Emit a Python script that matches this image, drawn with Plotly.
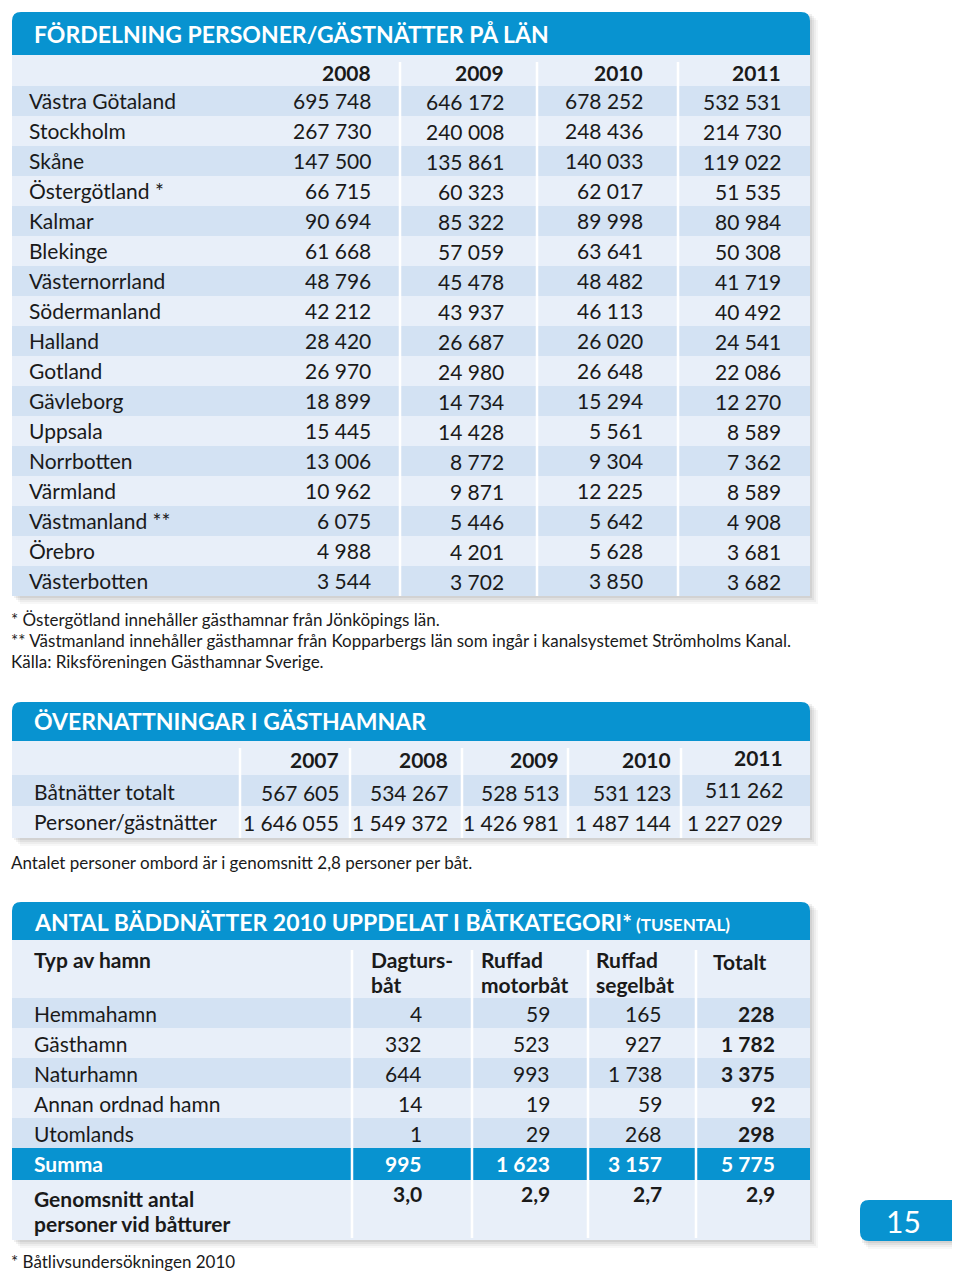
import plotly.graph_objects as go

# ---------------- DATA ----------------
# Table 1: Fördelning personer/gästnätter på län
lan = ["Västra Götaland", "Stockholm", "Skåne", "Östergötland *", "Kalmar", "Blekinge",
       "Västernorrland", "Södermanland", "Halland", "Gotland", "Gävleborg", "Uppsala",
       "Norrbotten", "Värmland", "Västmanland **", "Örebro", "Västerbotten"]
years_1 = ["2008", "2009", "2010", "2011"]
v2008 = [695748, 267730, 147500, 66715, 90694, 61668, 48796, 42212, 28420, 26970, 18899,
         15445, 13006, 10962, 6075, 4988, 3544]
v2009 = [646172, 240008, 135861, 60323, 85322, 57059, 45478, 43937, 26687, 24980, 14734,
         14428, 8772, 9871, 5446, 4201, 3702]
v2010 = [678252, 248436, 140033, 62017, 89998, 63641, 48482, 46113, 26020, 26648, 15294,
         5561, 9304, 12225, 5642, 5628, 3850]
v2011 = [532531, 214730, 119022, 51535, 80984, 50308, 41719, 40492, 24541, 22086, 12270,
         8589, 7362, 8589, 4908, 3681, 3682]

# Table 2: Övernattningar i gästhamnar
years_2 = ["2007", "2008", "2009", "2010", "2011"]
row_labels_2 = ["Båtnätter totalt", "Personer/gästnätter"]
batnatter = [567605, 534267, 528513, 531123, 511262]
personer = [1646055, 1549372, 1426981, 1487144, 1227029]

# Table 3: Antal bäddnätter 2010 uppdelat i båtkategori (tusental)
hamntyper = ["Hemmahamn", "Gästhamn", "Naturhamn", "Annan ordnad hamn", "Utomlands"]
kategorier = ["Dagturs-<br>båt", "Ruffad<br>motorbåt", "Ruffad<br>segelbåt", "Totalt"]
dagtur = [4, 332, 644, 14, 1]
motor = [59, 523, 993, 19, 29]
segel = [165, 927, 1738, 59, 268]
totalt = [228, 1782, 3375, 92, 298]
summa = [995, 1623, 3157, 5775]
genomsnitt = [3.0, 2.9, 2.7, 2.9]

# ---------------- STYLE ----------------
BLUE = "#0893D0"
LIGHT = "#E8EFF9"
DARK = "#D3E2F3"
TXT = "#1a1a1a"
FONT = "Lato"

PAGE_W, PAGE_H = 960, 1278
BODY = 8  # default page body margin
fig = go.Figure()
shapes = []
ann = []


def fmt(n):
    return f"{n:,}".replace(",", " ")


def fmt_dec(x):
    return f"{x:.1f}".replace(".", ",")


def rect(x0, y0, x1, y1, color, layer="below"):
    shapes.append(dict(type="rect", xref="x", yref="y", x0=x0, y0=y0, x1=x1, y1=y1,
                       fillcolor=color, line=dict(width=0), layer=layer))


def vline(x, y0, y1, color="white", width=2.5):
    shapes.append(dict(type="line", xref="x", yref="y", x0=x, x1=x, y0=y0, y1=y1,
                       line=dict(color=color, width=width), layer="below"))


def round_top(x0, y0, x1, y1, r, color):
    p = (f"M {x0},{y1} L {x0},{y0 + r} Q {x0},{y0} {x0 + r},{y0} L {x1 - r},{y0} "
         f"Q {x1},{y0} {x1},{y0 + r} L {x1},{y1} Z")
    shapes.append(dict(type="path", xref="x", yref="y", path=p, fillcolor=color,
                       line=dict(width=0), layer="below"))


def round_left(x0, y0, x1, y1, r, color):
    p = (f"M {x1},{y0} L {x0 + r},{y0} Q {x0},{y0} {x0},{y0 + r} L {x0},{y1 - r} "
         f"Q {x0},{y1} {x0 + r},{y1} L {x1},{y1} Z")
    shapes.append(dict(type="path", xref="x", yref="y", path=p, fillcolor=color,
                       line=dict(width=0), layer="below"))


def shadow(x0, y0, x1, y1):
    for d, a in [(8, 0.03), (6, 0.04), (4, 0.05), (2, 0.06)]:
        shapes.append(dict(type="rect", xref="x", yref="y", x0=x0 + d, y0=y0 + d,
                           x1=x1 + d, y1=y1 + d, fillcolor=f"rgba(0,0,0,{a})",
                           line=dict(width=0), layer="below"))


def text(x, y, s, size=21, anchor="left", bold=False, color=TXT, family=FONT):
    if bold:
        s = f"<b>{s}</b>"
    pad = {"left": -2, "right": 2, "center": 0}[anchor]
    ann.append(dict(x=x + pad, y=y, xref="x", yref="y", text=s, showarrow=False,
                    xanchor=anchor, yanchor="middle", align=anchor, borderpad=0,
                    font=dict(family=family, size=size, color=color)))


L, R = 12, 810
TITLE = 23
NOTE = 17

# ================= TABLE 1 =================
t1_top, t1_title_b, t1_head_b = 12, 55, 86
row_h = 30
t1_bottom = t1_head_b + row_h * len(lan)
shadow(L, t1_top, R, t1_bottom)
rect(L, t1_title_b, R, t1_bottom, LIGHT)
round_top(L, t1_top, R, t1_title_b, 9, BLUE)
text(35, 34, "FÖRDELNING PERSONER/GÄSTNÄTTER PÅ LÄN", size=TITLE, bold=True, color="white")
for i in range(len(lan)):
    if i % 2 == 0:
        rect(L, t1_head_b + i * row_h, R, t1_head_b + (i + 1) * row_h, DARK)
for x in [400, 537, 678]:
    vline(x, 62, t1_bottom)
cols1 = [370, 503, 642, 780]
for j, yr in enumerate(years_1):
    text(cols1[j], 72, yr, size=21, anchor="right", bold=True)
series1 = [v2008, v2009, v2010, v2011]
for i, name in enumerate(lan):
    yc = t1_head_b + i * row_h + 14
    text(30, yc, name)
    for j, s in enumerate(series1):
        off = 1.5 if j in (1, 3) else 0
        text(cols1[j], yc + off, fmt(s[i]), anchor="right")

text(12, 619, "* Östergötland innehåller gästhamnar från Jönköpings län.", size=NOTE)
text(12, 640, "** Västmanland innehåller gästhamnar från Kopparbergs län som ingår i kanalsystemet Strömholms Kanal.", size=NOTE)
text(12, 661, "Källa: Riksföreningen Gästhamnar Sverige.", size=NOTE)

# ================= TABLE 2 =================
t2_top, t2_title_b, t2_head_b = 702, 741, 775
t2_bottom = t2_head_b + 2 * 31.5
shadow(L, t2_top, R, t2_bottom)
rect(L, t2_title_b, R, t2_bottom, LIGHT)
round_top(L, t2_top, R, t2_title_b, 9, BLUE)
text(35, 721, "ÖVERNATTNINGAR I GÄSTHAMNAR", size=TITLE, bold=True, color="white")
rect(L, t2_head_b, R, t2_head_b + 31, DARK)
for x in [240, 350, 462, 568, 681]:
    vline(x, 748, t2_bottom)
cols2 = [338, 447, 558, 670, 782]
for j, yr in enumerate(years_2):
    text(cols2[j], 759 if j < 4 else 757, yr, anchor="right", bold=True)
for i, (lab, vals) in enumerate(zip(row_labels_2, [batnatter, personer])):
    yc = 791 + i * 30.5
    text(35, yc, lab)
    for j, v in enumerate(vals):
        off = (-2 if (j == 4 and i == 0) else 1)
        text(cols2[j], yc + off, fmt(v), anchor="right")

text(12, 862, "Antalet personer ombord är i genomsnitt 2,8 personer per båt.", size=NOTE)

# ================= TABLE 3 =================
t3_top, t3_title_b, t3_head_b = 902, 940, 998
t3_sum = t3_head_b + row_h * len(hamntyper)
t3_bottom = 1240
shadow(L, t3_top, R, t3_bottom)
rect(L, t3_title_b, R, t3_bottom, LIGHT)
round_top(L, t3_top, R, t3_title_b, 9, BLUE)
text(35, 922, "<b>ANTAL BÄDDNÄTTER 2010 UPPDELAT I BÅTKATEGORI*</b>"
              "<b><span style='font-size:17px'> (TUSENTAL)</span></b>",
     size=TITLE, color="white")
for i in range(len(hamntyper)):
    if i % 2 == 0:
        rect(L, t3_head_b + i * row_h, R, t3_head_b + (i + 1) * row_h, DARK)
rect(L, t3_sum, R, t3_sum + 32, BLUE)
for x in [352, 472, 588, 696]:
    vline(x, 950, 1238)

text(35, 959, "Typ av hamn", bold=True)
head_x = [372, 482, 597, 714]
for j, k in enumerate(kategorier):
    if "<br>" in k:
        a, b = k.split("<br>")
        text(head_x[j], 959, a, bold=True)
        text(head_x[j], 984, b, bold=True)
    else:
        text(head_x[j], 961, k, bold=True)

cols3 = [421, 549, 661, 774]
for i, name in enumerate(hamntyper):
    yc = t3_head_b + i * row_h + 15
    text(35, yc, name)
    for j, s in enumerate([dagtur, motor, segel]):
        text(cols3[j], yc, fmt(s[i]), anchor="right")
    text(cols3[3], yc, fmt(totalt[i]), anchor="right", bold=True)

text(35, 1163, "Summa", bold=True, color="white")
for j, v in enumerate(summa):
    text(cols3[j], 1163, fmt(v), anchor="right", bold=True, color="white")

text(35, 1198, "Genomsnitt antal", bold=True)
text(35, 1223, "personer vid båtturer", bold=True)
for j, v in enumerate(genomsnitt):
    text(cols3[j], 1193, fmt_dec(v), anchor="right", bold=True)

text(12, 1261, "* Båtlivsundersökningen 2010", size=NOTE)

# page number tab
shadow(860, 1200, 962, 1241)
round_left(860, 1200, 962, 1241, 9, BLUE)
text(903, 1221, "15", size=30, anchor="center", color="white")

FIG_W, FIG_H = PAGE_W - BODY, PAGE_H - BODY
fig.update_layout(
    width=FIG_W, height=FIG_H,
    margin=dict(l=0, r=0, t=0, b=0),
    paper_bgcolor="white", plot_bgcolor="white",
    xaxis=dict(range=[BODY, BODY + FIG_W], visible=False, fixedrange=True),
    yaxis=dict(range=[BODY + FIG_H, BODY], visible=False, fixedrange=True),
    shapes=shapes, annotations=ann, showlegend=False,
)
fig.write_html("out.html")
